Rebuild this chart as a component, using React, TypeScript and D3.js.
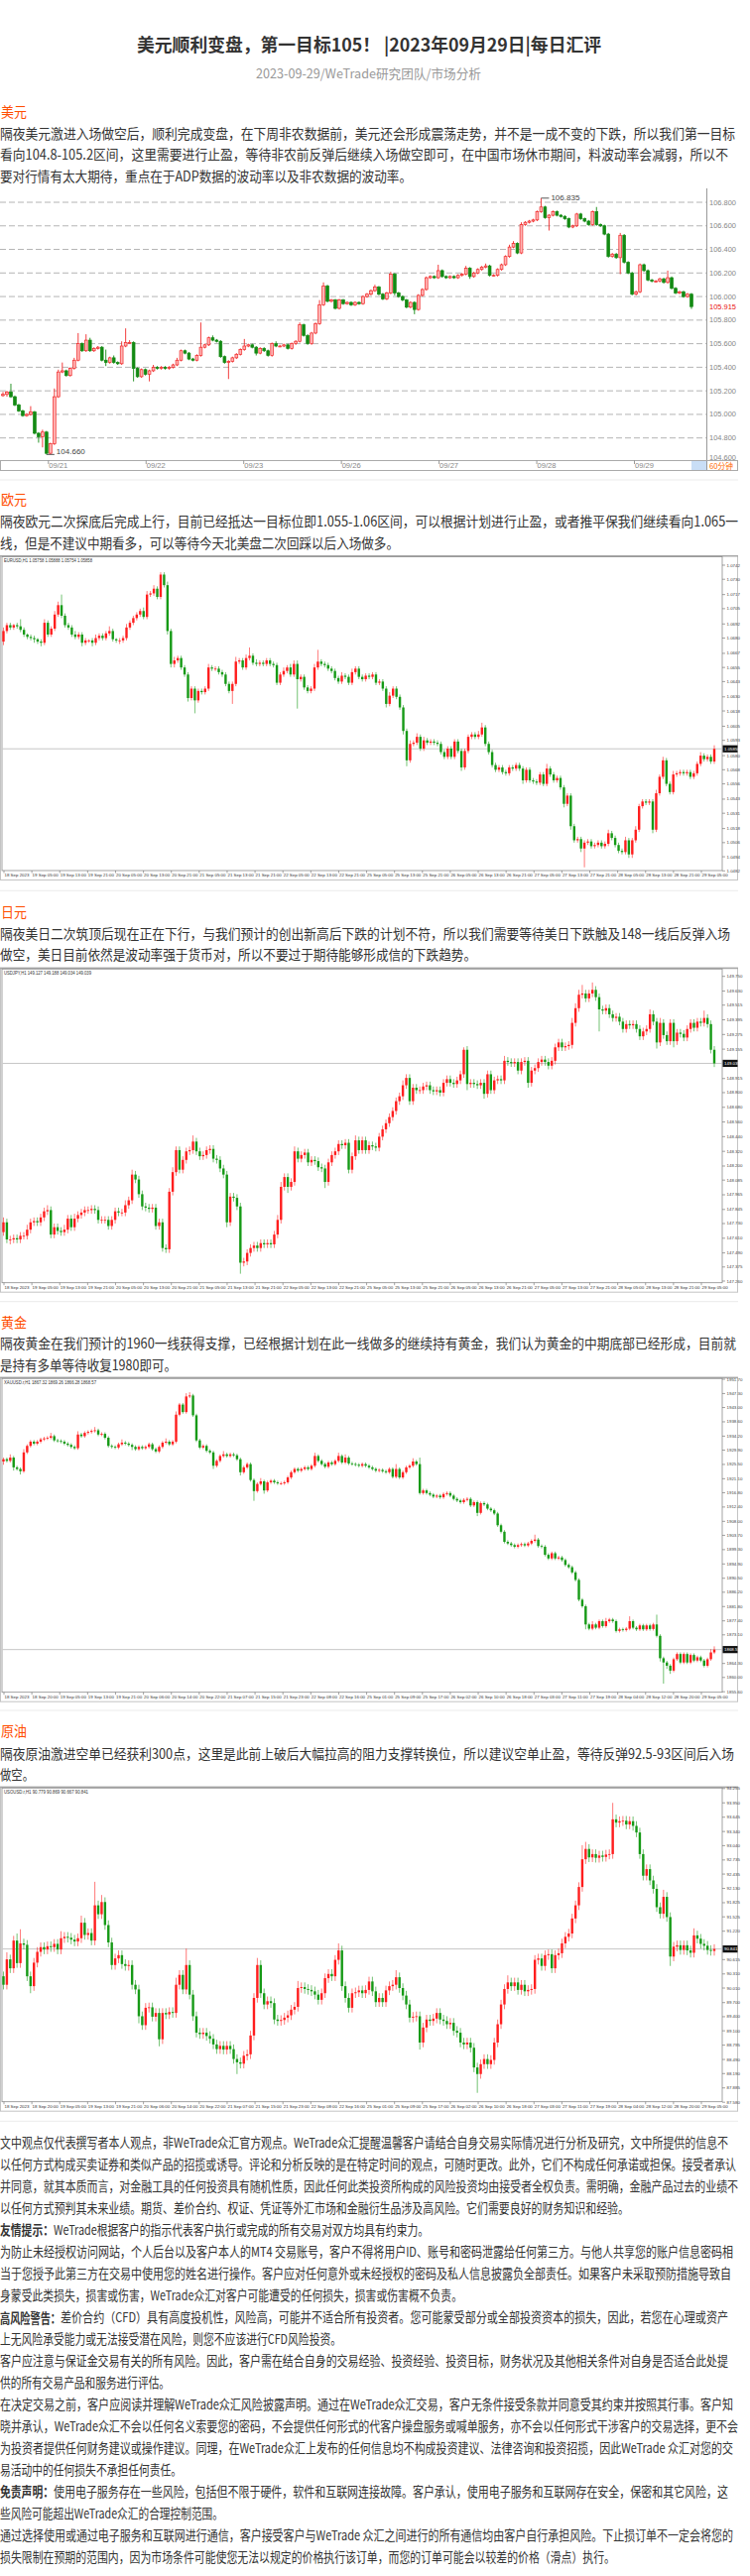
import React from 'react';
import * as d3 from 'd3';

// ================= TEXT DATA =================
const titleText = '美元顺利变盘，第一目标105！ |2023年09月29日|每日汇评';
const subtitleText = '2023-09-29/WeTrade研究团队/市场分析';

const usdHead = '美元';
const usdLines = [
  '隔夜美元激进入场做空后，顺利完成变盘，在下周非农数据前，美元还会形成震荡走势，并不是一成不变的下跌，所以我们第一目标',
  '看向104.8-105.2区间，这里需要进行止盈，等待非农前反弹后继续入场做空即可，在中国市场休市期间，料波动率会减弱，所以不',
  '要对行情有太大期待，重点在于ADP数据的波动率以及非农数据的波动率。',
];
const eurHead = '欧元';
const eurLines = [
  '隔夜欧元二次探底后完成上行，目前已经抵达一目标位即1.055-1.06区间，可以根据计划进行止盈，或者推平保我们继续看向1.065一',
  '线，但是不建议中期看多，可以等待今天北美盘二次回踩以后入场做多。',
];
const jpyHead = '日元';
const jpyLines = [
  '隔夜美日二次筑顶后现在正在下行，与我们预计的创出新高后下跌的计划不符，所以我们需要等待美日下跌触及148一线后反弹入场',
  '做空，美日目前依然是波动率强于货币对，所以不要过于期待能够形成信的下跌趋势。',
];
const xauHead = '黄金';
const xauLines = [
  '隔夜黄金在我们预计的1960一线获得支撑，已经根据计划在此一线做多的继续持有黄金，我们认为黄金的中期底部已经形成，目前就',
  '是持有多单等待收复1980即可。',
];
const oilHead = '原油';
const oilLines = [
  '隔夜原油激进空单已经获利300点，这里是此前上破后大幅拉高的阻力支撑转换位，所以建议空单止盈，等待反弹92.5-93区间后入场',
  '做空。',
];
const discBold = ['', '', '', '', '友情提示：', '', '', '', '高风险警告：', '', '', '', '', '', '', '', '免责声明：', '', '', ''];
const discLines = [
  '文中观点仅代表撰写者本人观点，非WeTrade众汇官方观点。WeTrade众汇提醒温馨客户请结合自身交易实际情况进行分析及研究，文中所提供的信息不',
  '以任何方式构成买卖证券和类似产品的招揽或诱导。评论和分析反映的是在特定时间的观点，可随时更改。此外，它们不构成任何承诺或担保。接受者承认',
  '并同意，就其本质而言，对金融工具的任何投资具有随机性质，因此任何此类投资所构成的风险投资均由接受者全权负责。需明确，金融产品过去的业绩不',
  '以任何方式预判其未来业绩。期货、差价合约、权证、凭证等外汇市场和金融衍生品涉及高风险。它们需要良好的财务知识和经验。',
  'WeTrade根据客户的指示代表客户执行或完成的所有交易对双方均具有约束力。',
  '为防止未经授权访问网站，个人后台以及客户本人的MT4 交易账号，客户不得将用户ID、账号和密码泄露给任何第三方。与他人共享您的账户信息密码相',
  '当于您授予此第三方在交易中使用您的姓名进行操作。客户应对任何意外或未经授权的密码及私人信息披露负全部责任。如果客户未采取预防措施导致自',
  '身蒙受此类损失，损害或伤害，WeTrade众汇对客户可能遭受的任何损失，损害或伤害概不负责。',
  '差价合约（CFD）具有高度投机性，风险高，可能并不适合所有投资者。您可能蒙受部分或全部投资资本的损失，因此，若您在心理或资产',
  '上无风险承受能力或无法接受潜在风险，则您不应该进行CFD风险投资。',
  '客户应注意与保证金交易有关的所有风险。因此，客户需在结合自身的交易经验、投资经验、投资目标，财务状况及其他相关条件对自身是否适合此处提',
  '供的所有交易产品和服务进行评估。',
  '在决定交易之前，客户应阅读并理解WeTrade众汇风险披露声明。通过在WeTrade众汇交易，客户无条件接受条款并同意受其约束并按照其行事。客户知',
  '晓并承认，WeTrade众汇不会以任何名义索要您的密码，不会提供任何形式的代客户操盘服务或喊单服务，亦不会以任何形式干涉客户的交易选择，更不会',
  '为投资者提供任何财务建议或操作建议。同理，在WeTrade众汇上发布的任何信息均不构成投资建议、法律咨询和投资招揽，因此WeTrade 众汇对您的交',
  '易活动中的任何损失不承担任何责任。',
  '使用电子服务存在一些风险，包括但不限于硬件，软件和互联网连接故障。客户承认，使用电子服务和互联网存在安全，保密和其它风险，这',
  '些风险可能超出WeTrade众汇的合理控制范围。',
  '通过选择使用或通过电子服务和互联网进行通信，客户接受客户与WeTrade 众汇之间进行的所有通信均由客户自行承担风险。下止损订单不一定会将您的',
  '损失限制在预期的范围内，因为市场条件可能使您无法以规定的价格执行该订单，而您的订单可能会以较差的价格（滑点）执行。',
];

// ================= CHART 1 (USD index, 60 min) =================
const c1Open0 = 105.16;
const c1Close = [
  105.17,105.19,105.15,105.08,105.03,104.99,105.00,105.02,104.84,104.81,
  104.85,104.67,104.75,105.15,105.36,105.37,105.33,105.39,105.46,105.60,
  105.54,105.63,105.54,105.56,105.57,105.46,105.44,105.48,105.44,105.43,
  105.58,105.61,105.61,105.39,105.32,105.38,105.34,105.37,105.40,105.39,
  105.40,105.39,105.40,105.42,105.46,105.54,105.52,105.47,105.46,105.50,
  105.57,105.59,105.65,105.63,105.62,105.49,105.44,105.45,105.48,105.51,
  105.55,105.58,105.59,105.57,105.52,105.56,105.54,105.50,105.60,105.58,
  105.58,105.59,105.56,105.60,105.62,105.76,105.67,105.60,105.69,105.77,
  105.93,106.09,105.96,105.97,105.90,105.97,105.94,105.95,105.93,105.95,
  105.94,106.00,106.02,106.05,106.08,106.02,105.98,106.03,106.19,106.03,
  106.00,105.97,105.91,105.95,105.89,106.01,106.06,106.16,106.17,106.16,
  106.22,106.17,106.16,106.17,106.16,106.18,106.19,106.24,106.17,106.20,
  106.23,106.25,106.26,106.18,106.18,106.23,106.27,106.34,106.42,106.45,
  106.37,106.61,106.63,106.64,106.65,106.72,106.76,106.67,106.69,106.72,
  106.69,106.68,106.66,106.59,106.60,106.70,106.66,106.64,106.61,106.72,
  106.61,106.60,106.53,106.34,106.36,106.33,106.52,106.29,106.20,106.02,
  106.04,106.27,106.22,106.14,106.13,106.13,106.15,106.12,106.16,106.07,
  106.03,106.04,106.00,106.02,105.915,
];
const c1Up = [
  2,1,7,1,1,1,1,5,1,1, 2,1,1,7,2,7,1,1,2,9, 1,5,2,1,1,1,9,1,2,1, 4,12,2,1,1,1,1,1,2,1,
  1,1,1,1,2,1,1,1,1,1, 21,1,1,2,1,1,1,1,1,1, 1,6,1,1,1,1,1,1,1,2, 1,1,1,1,1,2,1,1,1,1,
  4,3,1,1,1,1,1,1,1,1, 1,1,1,1,2,1,1,1,2,1, 1,1,1,1,1,1,1,1,1,1, 5,1,1,1,1,1,1,2,1,1,
  1,1,2,1,1,1,1,1,2,2, 1,2,1,1,1,1,7.5,1,1,1, 1,1,1,1,1,1,1,1,1,1, 4,1,1,1,1,1,2,1,1,1,
  1,1,1,1,1,1,1,1,6,1, 1,1,1,1,1,
];
const c1Dn = [
  1,2,1,1,1,1,1,1,1,5, 9,1,1,1,1,1,1,1,1,1, 1,1,1,1,1,1,3,1,1,1, 1,1,1,11,1,1,1,6,1,1,
  1,1,1,1,1,1,1,1,1,1, 1,1,1,1,1,1,1,14,1,1, 1,1,1,1,2,1,1,1,1,1, 1,1,1,1,1,1,1,1,1,1,
  1,1,1,1,1,1,1,1,1,1, 1,1,1,1,1,1,1,1,1,2, 1,1,1,1,4,1,1,1,1,1, 1,1,1,1,1,1,1,1,2,1,
  1,1,1,1,1,1,1,1,1,1, 1,1,1,1,1,1,1,1,11,1, 1,1,1,1,1,1,1,1,1,1, 1,1,1,1,1,1,14,1,1,1,
  1,1,1,1,1,1,1,1,1,1, 1,1,1,1,2,
];
const c1Ticks = [106.8,106.6,106.4,106.2,106.0,105.8,105.6,105.4,105.2,105.0,104.8,104.6];
const c1Days = ['09/21','09/22','09/23','09/26','09/27','09/28','09/29'];
const c1Period = '60分钟';

// ================= EURUSD H1 =================
const eurHeader = 'EURUSD,H1  1.05758 1.05888 1.05754 1.05858';
const eurOpen0 = 1.0677;
const eurClose = [
  1.0686,1.0691,1.0689,1.0691,1.0690,1.0687,1.0683,1.0681,1.0680,1.0679,
  1.0677,1.0676,1.0693,1.0683,1.0688,1.0700,1.0708,1.0699,1.0691,1.0689,
  1.0683,1.0681,1.0683,1.0676,1.0678,1.0678,1.0676,1.0680,1.0682,1.0680,
  1.0684,1.0686,1.0679,1.0678,1.0678,1.0680,1.0689,1.0693,1.0697,1.0700,
  1.0703,1.0698,1.0717,1.0718,1.0722,1.0715,1.0734,1.0725,1.0686,1.0658,
  1.0661,1.0663,1.0655,1.0649,1.0629,1.0637,1.0627,1.0635,1.0634,1.0637,
  1.0655,1.0654,1.0654,1.0651,1.0649,1.0641,1.0635,1.0641,1.0660,1.0661,
  1.0655,1.0663,1.0665,1.0659,1.0658,1.0659,1.0658,1.0661,1.0658,1.0657,
  1.0642,1.0649,1.0652,1.0655,1.0649,1.0658,1.0645,1.0647,1.0638,1.0635,
  1.0637,1.0655,1.0660,1.0658,1.0657,1.0654,1.0652,1.0646,1.0643,1.0648,
  1.0647,1.0642,1.0651,1.0654,1.0647,1.0645,1.0648,1.0647,1.0649,1.0642,
  1.0643,1.0637,1.0624,1.0631,1.0637,1.0630,1.0621,1.0601,1.0576,1.0590,
  1.0591,1.0596,1.0586,1.0593,1.0591,1.0592,1.0591,1.0590,1.0583,1.0579,
  1.0586,1.0579,1.0592,1.0584,1.0570,1.0584,1.0596,1.0598,1.0596,1.0598,
  1.0604,1.0590,1.0583,1.0572,1.0568,1.0570,1.0566,1.0565,1.0570,1.0569,
  1.0572,1.0569,1.0559,1.0568,1.0559,1.0558,1.0557,1.0564,1.0556,1.0569,
  1.0564,1.0559,1.0561,1.0553,1.0539,1.0546,1.0520,1.0508,1.0509,1.0501,
  1.0506,1.0507,1.0503,1.0504,1.0506,1.0503,1.0505,1.0514,1.0510,1.0504,
  1.0499,1.0498,1.0508,1.0496,1.0508,1.0517,1.0537,1.0541,1.0540,1.0541,
  1.0517,1.0548,1.0562,1.0576,1.0556,1.0549,1.0564,1.0565,1.0566,1.0565,
  1.0566,1.0562,1.0565,1.0573,1.0580,1.0577,1.0579,1.0575,1.05858,
];
const eurUp = [
  3,2,2,1,2,6,2,1,2,2, 1,2,3,2,2,3,3,9,2,2, 2,3,2,2,2,1,2,3,2,2, 2,4,2,1,2,2,3,2,2,2,
  2,3,3,2,3,2,2,2,3,2, 3,2,2,2,2,2,2,2,2,2, 3,2,2,2,2,2,2,2,4,2, 2,3,7,2,3,2,2,2,2,2,
  2,2,3,2,3,3,3,2,2,2, 2,3,10,2,2,2,2,2,2,3, 2,2,3,2,2,2,2,2,2,2, 2,2,2,3,2,2,2,2,2,3,
  2,3,2,3,2,2,2,2,2,2, 2,2,2,2,2,2,2,2,2,3, 4,2,2,2,2,2,2,2,2,2, 2,2,2,2,2,2,2,2,2,4,
  2,2,2,2,2,2,2,2,2,2, 2,2,2,2,2,2,2,3,2,2, 2,2,3,2,2,3,2,2,2,2, 2,3,2,3,2,2,3,2,2,2,
  2,2,2,2,3,2,2,2,3,
];
const eurDn = [
  3,2,2,2,2,2,2,2,2,3, 2,3,2,2,2,2,2,2,2,2, 2,2,2,3,2,2,3,2,2,2, 2,2,2,2,3,2,2,2,2,2,
  2,2,2,2,2,2,2,2,3,3, 3,2,2,2,3,2,11,2,2,2, 2,2,2,2,2,2,2,11,2,2, 2,2,2,2,2,2,2,2,2,2,
  2,2,2,2,2,2,25,2,2,2, 2,2,2,2,2,2,2,2,2,2, 2,2,2,2,2,2,2,2,2,2, 2,2,3,2,2,2,2,3,5,2,
  2,2,2,2,2,2,2,2,2,2, 2,2,2,2,3,2,2,2,2,2, 2,2,2,2,2,2,2,2,2,2, 2,2,3,2,2,2,2,2,2,2,
  2,2,2,2,3,2,3,2,2,3, 16,2,2,2,2,2,2,2,2,2, 2,2,2,3,3,2,2,2,2,2, 3,2,2,2,2,2,2,2,2,2,
  2,2,2,2,2,2,2,2,2,
];
const eurTicks = [1.0742,1.0730,1.0717,1.0705,1.0692,1.0680,1.0667,1.0655,1.0643,1.0630,1.0618,1.0605,1.0593,1.0580,1.0568,1.0556,1.0543,1.0531,1.0518,1.0506,1.0494,1.0482];
const fxXLabels = ['18 Sep 2023','19 Sep 05:00','19 Sep 13:00','19 Sep 21:00','20 Sep 05:00','20 Sep 13:00','20 Sep 21:00','21 Sep 05:00','21 Sep 13:00','21 Sep 21:00','22 Sep 05:00','22 Sep 13:00','22 Sep 21:00','25 Sep 05:00','25 Sep 13:00','25 Sep 21:00','26 Sep 05:00','26 Sep 13:00','26 Sep 21:00','27 Sep 05:00','27 Sep 13:00','27 Sep 21:00','28 Sep 05:00','28 Sep 13:00','28 Sep 21:00','29 Sep 05:00'];

// ================= USDJPY H1 =================
const jpyHeader = 'USDJPY,H1  149.127 149.188 149.034 149.039';
const jpyOpen0 = 147.66;
const jpyClose = [
  147.74,147.60,147.60,147.61,147.60,147.63,147.63,147.68,147.74,147.75,
  147.74,147.78,147.83,147.84,147.64,147.70,147.67,147.66,147.68,147.77,
  147.70,147.77,147.80,147.82,147.84,147.84,147.85,147.84,147.76,147.76,
  147.76,147.71,147.76,147.83,147.82,147.82,147.88,147.92,148.13,148.09,
  147.97,147.87,147.86,147.85,147.86,147.71,147.74,147.53,147.52,147.99,
  148.15,148.33,148.17,148.25,148.32,148.33,148.40,148.32,148.28,148.29,
  148.33,148.34,148.26,148.25,148.18,148.13,147.74,147.95,147.94,147.87,
  147.41,147.42,147.49,147.53,147.55,147.53,147.57,147.56,147.57,147.56,
  147.64,147.76,148.03,148.11,148.03,148.07,148.32,148.26,148.29,148.31,
  148.23,148.25,148.24,148.19,148.18,148.07,148.23,148.29,148.32,148.38,
  148.37,148.39,148.17,148.28,148.41,148.33,148.41,148.33,148.37,148.36,
  148.35,148.44,148.50,148.55,148.60,148.65,148.73,148.77,148.86,148.92,
  148.73,148.84,148.82,148.82,148.85,148.86,148.82,148.81,148.82,148.80,
  148.88,148.91,148.88,148.87,148.90,148.95,149.15,148.87,148.88,148.87,
  148.86,148.88,148.79,148.95,148.82,148.90,148.91,148.90,149.06,149.05,
  149.04,149.05,148.98,149.05,149.06,148.88,148.98,149.00,149.05,149.07,
  149.05,149.02,149.06,149.17,149.21,149.17,149.18,149.19,149.37,149.49,
  149.60,149.61,149.57,149.61,149.64,149.58,149.48,149.47,149.49,149.44,
  149.41,149.42,149.38,149.32,149.36,149.35,149.36,149.32,149.26,149.30,
  149.32,149.44,149.38,149.21,149.37,149.27,149.22,149.37,149.22,149.29,
  149.28,149.25,149.32,149.37,149.33,149.38,149.37,149.41,149.36,149.15,
  149.039,
];
const jpyUp = [
  4,3,3,3,3,3,3,4,3,3, 3,3,3,4,3,3,3,3,4,3, 3,4,3,3,3,3,3,3,3,3, 3,3,3,3,3,3,4,3,4,3,
  3,3,3,3,3,3,3,3,3,3, 4,3,3,3,3,3,5,3,3,3, 3,3,3,3,3,3,3,3,3,3, 3,3,3,3,3,3,3,3,3,3,
  3,4,4,3,3,3,4,3,3,3, 3,3,3,3,3,3,3,3,3,3, 3,3,3,3,4,3,3,3,3,3, 3,3,3,3,3,3,3,3,4,3,
  3,3,3,3,3,3,3,3,3,3, 3,3,3,3,3,3,2,3,3,3, 3,3,3,3,3,3,3,3,4,3, 3,3,3,3,3,3,3,3,3,3,
  3,3,3,3,3,3,3,3,4,4, 4,7,3,3,6,3,3,3,3,3, 3,3,3,3,3,3,3,3,3,3, 3,4,3,3,4,3,3,3,3,3,
  3,3,3,3,3,3,3,6,3,3, 3,
];
const jpyDn = [
  3,3,4,3,3,3,3,3,3,3, 3,3,3,3,3,3,3,3,3,3, 3,3,3,3,3,3,3,3,3,3, 3,3,3,3,3,3,3,3,3,3,
  3,3,3,3,3,3,3,3,3,3, 3,3,3,3,3,3,3,3,3,3, 3,3,3,3,3,3,4,3,3,3, 9,3,3,3,3,3,3,3,3,3,
  3,3,3,3,5,3,3,3,3,3, 3,3,3,3,3,5,3,3,3,3, 3,3,3,3,3,3,3,3,3,3, 3,3,3,3,3,3,3,3,3,3,
  3,3,3,3,3,3,3,3,3,3, 3,3,3,3,3,3,3,5,3,3, 3,3,4,3,3,3,3,3,3,3, 3,3,3,3,3,4,3,3,3,3,
  3,3,3,3,3,3,3,3,3,3, 3,3,3,3,3,3,18,3,3,3, 3,3,3,3,3,3,3,3,3,3, 3,3,3,5,3,3,3,3,5,3,
  3,3,3,3,3,3,3,3,3,3, 3,
];
const jpyTicks = [149.750,149.630,149.515,149.395,149.275,149.155,149.035,148.915,148.800,148.680,148.560,148.440,148.320,148.200,148.085,147.965,147.845,147.730,147.610,147.490,147.375,147.260];

// ================= XAUUSD H1 =================
const xauHeader = 'XAUUSD.r,H1  1867.32 1869.26 1866.28 1868.57';
const xauOpen0 = 1926.4;
const xauClose = [
  1927.1,1926.6,1927.6,1924.6,1924.1,1923.4,1929.2,1931.2,1932.5,1931.9,
  1932.5,1933.2,1933.5,1933.7,1934.2,1932.9,1932.7,1932.5,1931.9,1931.5,
  1930.9,1930.5,1934.7,1934.2,1935.2,1935.5,1935.8,1936.0,1934.7,1934.9,
  1933.7,1931.2,1930.9,1930.7,1931.7,1932.2,1931.9,1931.5,1930.9,1930.2,
  1930.9,1930.5,1930.9,1931.7,1930.2,1929.5,1930.9,1932.2,1932.5,1931.7,
  1932.5,1940.8,1943.9,1941.6,1946.4,1946.7,1940.6,1932.9,1930.7,1931.2,
  1929.7,1929.2,1925.1,1926.6,1928.1,1928.6,1928.1,1928.6,1928.3,1927.1,
  1923.1,1924.6,1925.6,1920.7,1917.3,1919.5,1920.3,1917.5,1920.0,1920.5,
  1920.0,1919.7,1919.7,1920.0,1921.5,1923.1,1924.1,1923.6,1924.1,1924.6,
  1924.1,1925.1,1928.1,1926.6,1925.6,1924.8,1926.1,1925.6,1926.6,1928.1,
  1926.1,1927.6,1925.8,1925.6,1925.4,1925.1,1925.6,1925.1,1924.6,1924.1,
  1923.6,1923.8,1923.4,1923.1,1924.1,1921.7,1924.1,1921.5,1923.1,1924.6,
  1925.1,1926.4,1925.6,1916.7,1917.5,1916.7,1916.2,1915.6,1915.9,1915.4,
  1916.4,1916.7,1915.9,1914.9,1914.4,1913.9,1914.6,1914.9,1912.9,1913.9,
  1910.6,1913.6,1913.2,1911.9,1911.4,1910.4,1906.8,1904.8,1901.7,1901.2,
  1900.7,1900.2,1900.7,1901.0,1900.6,1901.2,1902.0,1902.4,1900.4,1900.2,
  1897.7,1896.6,1898.2,1896.6,1896.9,1896.1,1894.6,1893.9,1892.3,1890.0,
  1883.9,1881.9,1876.3,1875.0,1876.3,1875.3,1877.3,1875.8,1877.3,1877.8,
  1877.3,1874.3,1874.8,1874.6,1875.0,1877.3,1875.3,1874.8,1876.0,1874.8,
  1876.0,1874.9,1876.3,1872.8,1865.9,1864.6,1863.6,1862.1,1865.6,1867.2,
  1864.6,1867.2,1864.6,1866.9,1865.2,1866.2,1865.2,1863.6,1865.6,1867.7,
  1868.57,
];
const xauUp = [
  1,1,2,1,1,1,2,1,1,1, 1,1,1,1,2,1,1,1,1,1, 1,1,2,1,1,1,1,2,1,1, 1,1,1,1,1,2,1,1,1,1,
  1,1,1,1,1,1,1,1,2,1, 1,2,1,1,2,2,1,1,1,1, 1,1,1,1,1,2,1,1,1,1, 1,1,1,1,1,1,2,1,1,1,
  1,1,1,1,1,1,1,1,1,1, 1,1,2,1,1,1,1,1,1,2, 1,2,1,1,1,1,1,1,1,1, 1,1,1,1,1,1,3,1,1,1,
  1,2,1,4,1,1,1,1,1,1, 1,1,1,1,1,1,1,1,1,1, 1,1,1,1,1,1,1,1,1,1, 1,1,1,1,1,1,1,3,1,1,
  1,1,1,1,1,1,1,1,1,1, 1,1,1,1,2,1,1,1,2,1, 1,1,1,1,1,3,1,1,1,1, 1,1,1,6,1,1,1,1,1,1,
  1,1,1,1,1,1,1,1,1,2, 2,
];
const xauDn = [
  2,1,1,2,1,2,1,1,1,1, 1,1,1,1,1,1,1,1,1,1, 1,1,1,1,1,1,1,1,1,1, 1,1,1,1,1,1,1,1,2,1,
  1,1,1,1,1,1,1,1,1,1, 1,1,1,1,1,1,1,1,1,1, 1,1,2,1,1,1,1,1,1,1, 2,1,1,1,6,1,1,2,1,1,
  1,1,1,1,1,1,1,1,1,1, 1,1,1,1,1,1,1,1,1,1, 1,1,1,1,1,1,1,1,1,1, 1,1,1,1,1,1,1,1,1,1,
  1,1,1,1,1,1,1,1,1,1, 1,1,1,1,1,1,1,1,1,1, 2,1,1,1,1,1,1,1,1,1, 1,1,1,1,1,1,1,1,1,1,
  1,1,1,1,1,1,1,1,1,1, 1,1,3,1,1,1,1,1,1,1, 1,1,1,1,1,1,1,1,1,1, 1,1,1,1,2,13,2,2,1,1,
  1,1,1,1,1,1,1,1,1,1, 1,
];
const xauTicks = [1951.70,1947.30,1943.00,1938.60,1934.20,1929.90,1925.50,1921.10,1916.80,1912.40,1908.00,1903.70,1899.30,1894.90,1890.50,1886.20,1881.80,1877.40,1873.10,1868.70,1864.30,1860.00,1855.60];
const cmdXLabels = ['18 Sep 2023','18 Sep 20:00','19 Sep 05:00','19 Sep 13:00','19 Sep 21:00','20 Sep 06:00','20 Sep 14:00','20 Sep 22:00','21 Sep 07:00','21 Sep 15:00','21 Sep 23:00','22 Sep 08:00','22 Sep 16:00','25 Sep 01:00','25 Sep 09:00','25 Sep 17:00','26 Sep 02:00','26 Sep 10:00','26 Sep 18:00','27 Sep 03:00','27 Sep 11:00','27 Sep 19:00','28 Sep 04:00','28 Sep 12:00','28 Sep 20:00','29 Sep 05:00'];

// ================= USOUSD H1 =================
const oilHeader = 'USOUSD.r,H1  90.779 90.869 90.667 90.841';
const oilOpen0 = 90.26;
const oilClose = [
  90.08,90.62,90.43,91.02,90.54,90.96,90.93,90.26,90.05,90.55,
  90.78,90.88,90.83,90.90,90.88,90.95,90.83,91.07,91.10,91.08,
  91.04,91.00,91.07,91.40,91.14,91.18,91.02,91.77,91.58,91.84,
  91.35,90.98,90.50,90.64,90.71,90.52,90.48,90.50,90.08,89.98,
  89.41,89.22,89.59,89.60,89.40,89.48,88.92,89.48,89.45,89.50,
  89.48,90.08,90.29,89.98,90.50,89.87,89.41,89.06,89.03,89.06,
  88.99,88.93,88.81,88.71,88.78,88.70,88.78,88.71,88.50,88.43,
  88.40,88.57,88.60,89.00,89.80,90.50,89.90,89.66,89.73,89.69,
  89.34,89.31,89.33,89.38,89.43,89.55,89.61,90.01,90.03,89.99,
  89.97,89.94,89.87,89.76,89.90,90.22,90.31,90.26,90.61,90.81,
  90.05,89.80,89.59,89.90,89.92,89.96,89.90,89.97,90.15,89.94,
  89.71,89.80,89.71,89.96,90.05,90.08,90.24,90.01,89.85,89.66,
  89.38,89.40,89.41,88.85,89.17,89.34,89.31,89.36,89.48,89.34,
  89.31,89.24,89.27,89.10,89.06,88.85,88.81,88.85,88.74,88.32,
  88.18,88.39,88.50,88.39,88.48,88.85,89.24,89.66,89.99,90.13,
  90.05,90.13,89.97,90.08,89.94,89.97,89.99,90.61,90.64,90.48,
  90.71,90.73,90.43,90.71,90.75,90.96,91.10,91.17,91.49,91.77,
  92.16,92.75,92.97,92.79,92.86,92.78,92.83,92.80,92.85,92.86,
  93.60,93.53,93.56,93.57,93.49,93.56,93.46,93.32,92.86,92.40,
  92.54,92.30,92.12,91.73,91.59,91.95,91.52,90.68,90.89,90.92,
  90.82,90.92,90.81,90.76,91.13,91.06,90.95,90.91,90.82,90.80,
  90.841,
];
const oilUp = [
  2,3,2,2,3,6,2,2,2,2, 2,2,2,2,2,2,2,3,2,2, 2,2,2,3,2,2,2,10,2,3, 2,2,2,2,2,2,2,2,2,2,
  2,2,2,2,2,2,2,2,2,2, 2,3,2,2,7,2,2,2,2,2, 2,2,2,2,2,2,2,2,2,2, 2,2,2,2,2,3,2,2,2,2,
  2,2,2,2,2,2,2,3,2,2, 2,2,2,2,2,2,2,2,2,3, 2,2,2,2,2,2,2,2,2,2, 2,2,2,2,2,2,3,2,2,2,
  2,2,2,2,2,2,2,2,2,2, 2,2,2,2,2,2,2,2,2,2, 2,2,2,2,2,2,2,2,2,3, 2,2,2,2,2,2,2,2,2,2,
  2,2,2,2,2,2,2,2,2,2, 2,6,3,2,2,2,2,2,2,2, 7,2,2,2,2,2,2,2,2,2, 2,2,2,2,2,3,2,2,2,2,
  2,2,2,2,3,2,2,2,2,2, 2,
];
const oilDn = [
  2,2,2,2,2,2,2,2,3,2, 2,2,2,2,2,2,2,2,2,2, 2,2,2,2,2,2,2,2,2,2, 2,2,2,2,2,2,2,2,2,2,
  3,2,2,2,2,2,3,2,2,2, 2,2,2,2,2,2,2,2,2,2, 2,2,2,2,2,2,2,2,2,5, 2,2,2,2,2,2,2,2,2,2,
  2,2,2,2,2,2,2,2,2,2, 2,2,2,2,2,2,2,2,2,2, 2,2,2,2,2,2,2,2,2,2, 2,2,2,2,2,2,2,2,2,2,
  2,2,2,3,2,2,2,2,2,2, 2,2,2,2,2,2,2,2,2,2, 8,2,2,2,2,2,2,2,2,2, 2,2,2,2,2,2,2,2,2,2,
  2,2,2,2,2,2,2,2,2,2, 2,2,2,2,2,2,2,2,2,2, 2,2,2,2,2,2,2,2,2,2, 2,2,2,2,2,2,2,4,2,2,
  2,2,2,2,2,2,2,2,2,2, 2,
];
const oilTicks = [94.255,93.950,93.645,93.340,93.040,92.735,92.435,92.130,91.825,91.525,91.220,90.920,90.615,90.310,90.010,89.700,89.400,89.100,88.795,88.490,88.190,87.885,87.580];

// ================= HELPERS =================
const CJK = '"Noto Sans CJK SC","Noto Sans CJK JP","Noto Sans",sans-serif';
const LAT = '"Liberation Sans",Arial,sans-serif';

type Candle = { o: number; h: number; l: number; c: number };
function buildCandles(open0: number, closes: number[], up: number[], dn: number[], unit: number): Candle[] {
  let prev = open0;
  return closes.map((c, i) => {
    const o = prev;
    prev = c;
    return { o, c, h: Math.max(o, c) + (up[i] ?? 1) * unit, l: Math.min(o, c) - (dn[i] ?? 1) * unit };
  });
}

// estimated natural advance width, in em, of a string in the CJK font
function emWidth(s: string) {
  let w = 0;
  for (const ch of s) {
    const c = ch.codePointAt(0) || 0;
    if (c >= 0x2e80) w += 1;
    else if (ch === ' ') w += 0.26;
    else if ('.,:;!|'.includes(ch)) w += 0.27;
    else if ('-()/'.includes(ch)) w += 0.34;
    else if (/[0-9]/.test(ch)) w += 0.56;
    else if (/[A-Z]/.test(ch)) w += ch === 'W' ? 0.92 : ch === 'I' ? 0.3 : 0.64;
    else if (/[a-z]/.test(ch)) w += ch === 'm' ? 0.86 : 'ilj'.includes(ch) ? 0.24 : 'rtf'.includes(ch) ? 0.36 : 0.54;
    else w += 0.56;
  }
  return w;
}

// text squeezed horizontally (like the reference) to a given width
function TLine({ x = 0, y, w, size = 14, fill = '#333', weight = 400, anchor = 'start', family = CJK, children }: any) {
  const s = String(children);
  const sx = w / (emWidth(s) * size);
  return (
    <text transform={`translate(${x},${y}) scale(${sx.toFixed(4)},1)`} x={0} y={0} fontSize={size} fill={fill}
      fontWeight={weight} fontFamily={family} textAnchor={anchor} dominantBaseline="central"
      textLength={w / sx} lengthAdjust="spacingAndGlyphs">
      {s}
    </text>
  );
}

function Section({ head, lines, headY, y0, widths }: any) {
  return (
    <g>
      <TLine x={1} y={headY} w={26} fill="#ff4d00">{head}</TLine>
      {lines.map((t: string, i: number) => (
        <TLine key={i} x={0} y={y0 + i * 21.8} w={widths[i]}>{t}</TLine>
      ))}
    </g>
  );
}

// ================= CHART 1 =================
function UsdChart() {
  const data = buildCandles(c1Open0, c1Close, c1Up, c1Dn, 0.01);
  const x = d3.scaleLinear().domain([0, data.length - 1]).range([3, 697]);
  const y = d3.scaleLinear().domain([104.8, 106.8]).range([441.7, 204]);
  const dx = d3.scalePoint<string>().domain(c1Days).range([48.8, 639.5]);
  const hi = d3.maxIndex(data, d => d.h);
  const lo = d3.minIndex(data, d => d.l);
  const last = data[data.length - 1].c;
  const RED = '#f02828', GRN = '#138a13';
  return (
    <g>
      {c1Ticks.filter(v => y(v) < 462).map(v => (
        <line key={'g' + v} x1={0} x2={712} y1={y(v)} y2={y(v)} stroke="#b4b4b4" strokeDasharray="6,3" strokeWidth={1} />
      ))}
      {c1Ticks.map(v => (
        <text key={'t' + v} x={715} y={Math.min(y(v), 461)} fontSize={7.5} fill="#888" fontFamily={LAT}
          dominantBaseline="central" textLength={27} lengthAdjust="spacingAndGlyphs">{v.toFixed(3)}</text>
      ))}
      <line x1={712.5} x2={712.5} y1={190} y2={474} stroke="#999" />
      <line x1={0} x2={744} y1={464.5} y2={464.5} stroke="#aaa" />
      <line x1={0} x2={744} y1={474.5} y2={474.5} stroke="#aaa" />
      <line x1={0.5} x2={0.5} y1={464} y2={475} stroke="#aaa" />
      <line x1={743.5} x2={743.5} y1={464} y2={475} stroke="#aaa" />
      {c1Days.map(d => (
        <g key={d}>
          <line x1={dx(d)!} x2={dx(d)!} y1={464} y2={468} stroke="#999" />
          <text x={dx(d)! + 0.5} y={469} fontSize={7.5} fill="#888" fontFamily={LAT} dominantBaseline="central"
            textLength={19} lengthAdjust="spacingAndGlyphs">{d}</text>
        </g>
      ))}
      <rect x={697} y={465} width={15} height={9} fill="#c9def6" />
      <text x={715} y={469.5} fontSize={7.5} fill="#ff6a00" fontFamily={CJK} dominantBaseline="central"
        textLength={24} lengthAdjust="spacingAndGlyphs">{c1Period}</text>
      {data.map((d, i) => {
        const up = d.c >= d.o;
        const col = up ? RED : GRN;
        const cx = x(i);
        const top = y(Math.max(d.o, d.c)), bot = y(Math.min(d.o, d.c));
        return (
          <g key={i}>
            <line x1={cx} x2={cx} y1={y(d.h)} y2={y(d.l)} stroke={col} strokeWidth={0.9} />
            <rect x={cx - 1.4} y={top} width={2.8} height={Math.max(bot - top, 0.9)}
              fill={up ? '#ffb4b4' : col} stroke={col} strokeWidth={0.7} />
          </g>
        );
      })}
      <line x1={x(hi)} x2={x(hi) + 8} y1={y(data[hi].h)} y2={y(data[hi].h)} stroke="#555" />
      <text x={x(hi) + 10} y={y(data[hi].h)} fontSize={8} fill="#444" fontFamily={LAT} dominantBaseline="central">{data[hi].h.toFixed(3)}</text>
      <line x1={x(lo)} x2={x(lo) + 8} y1={y(data[lo].l)} y2={y(data[lo].l)} stroke="#555" />
      <text x={x(lo) + 10} y={y(data[lo].l) - 3} fontSize={8} fill="#444" fontFamily={LAT} dominantBaseline="central">{data[lo].l.toFixed(3)}</text>
      <text x={715} y={y(last)} fontSize={8} fill="#e81010" fontFamily={LAT} dominantBaseline="central"
        textLength={27} lengthAdjust="spacingAndGlyphs">{last.toFixed(3)}</text>
    </g>
  );
}

// ================= MT4 CHART =================
function Mt4Chart({ T, header, headerW, open0, closes, up, dn, unit, ticks, digits, curDigits, vTop, yTop, vBot, yBot, xLabels }: any) {
  const data = buildCandles(open0, closes, up, dn, unit);
  const x = d3.scaleLinear().domain([0, data.length - 1]).range([3.5, 720]);
  const y = d3.scaleLinear().domain([vBot, vTop]).range([T + yBot, T + yTop]);
  const xl = d3.scalePoint<string>().domain(xLabels).range([4, 707]);
  const last = data[data.length - 1].c;
  const cy = y(last);
  const RED = '#ff1e1e', GRN = '#169a16';
  const PB = T + 318;
  return (
    <g>
      <rect x={0.5} y={T + 0.5} width={743} height={327} fill="#fff" stroke="#c4c4c4" />
      <line x1={0} x2={744} y1={T + 0.8} y2={T + 0.8} stroke="#a8a8a8" strokeWidth={1.6} />
      <rect x={2} y={T + 1.5} width={726} height={PB - T - 1.5} fill="none" stroke="#8c8c8c" strokeWidth={0.8} />
      <text x={4} y={T + 5.5} fontSize={4.6} fill="#333" fontFamily={LAT} dominantBaseline="central"
        textLength={headerW} lengthAdjust="spacingAndGlyphs">{header}</text>
      {ticks.filter((v: number) => Math.abs(y(v) - cy) > 4.5).map((v: number) => (
        <g key={v}>
          <line x1={728} x2={731} y1={y(v)} y2={y(v)} stroke="#666" strokeWidth={0.6} />
          <text x={732.5} y={y(v)} fontSize={4.4} fill="#444" fontFamily={LAT} dominantBaseline="central">{v.toFixed(digits)}</text>
        </g>
      ))}
      <line x1={2.5} x2={728} y1={cy} y2={cy} stroke="#c6c6c6" strokeWidth={1} />
      {data.map((d: Candle, i: number) => {
        const upC = d.c >= d.o;
        const col = upC ? RED : GRN;
        const cx = x(i);
        const top = y(Math.max(d.o, d.c)), bot = y(Math.min(d.o, d.c));
        return (
          <g key={i}>
            <line x1={cx} x2={cx} y1={y(d.h)} y2={y(d.l)} stroke={col} strokeWidth={0.8} opacity={0.75} />
            <rect x={cx - 1.2} y={top} width={2.4} height={Math.max(bot - top, 0.8)} fill={col} />
          </g>
        );
      })}
      <rect x={728.5} y={cy - 3.6} width={15} height={7.2} fill="#111" />
      <text x={730} y={cy} fontSize={4.4} fill="#fff" fontFamily={LAT} dominantBaseline="central">{last.toFixed(curDigits)}</text>
      {xLabels.map((s: string) => (
        <g key={s}>
          <line x1={xl(s)!} x2={xl(s)!} y1={PB} y2={PB + 2.5} stroke="#666" strokeWidth={0.6} />
          <text x={xl(s)! + 0.5} y={T + 322.5} fontSize={4.4} fill="#333" fontFamily={LAT} dominantBaseline="central">{s}</text>
        </g>
      ))}
    </g>
  );
}

// ================= APP =================
export default function App() {
  const sepYs = [484, 898.3, 1312.7, 1725, 2139.3];
  const discW = [734, 742, 744, 634, 432, 739, 737, 466, 734, 344, 734, 171, 739, 744, 739, 183, 734, 225, 739, 620];
  const boldW: Record<string, number> = { '友情提示：': 54, '高风险警告：': 61, '免责声明：': 54 };
  return (
    <svg width={756} height={2598} viewBox="0 0 756 2598"
      style={{ position: 'absolute', left: 0, top: 0, display: 'block', background: '#fff' }}>
      <rect x={0} y={0} width={756} height={2598} fill="#fff" />
      <TLine x={372} y={44} w={468} size={18} weight={700} anchor="middle">{titleText}</TLine>
      <TLine x={371.5} y={73} w={227} size={13} fill="#999" anchor="middle">{subtitleText}</TLine>

      <Section head={usdHead} lines={usdLines} headY={112} y0={133.3} widths={[741, 734, 415]} />
      <UsdChart />

      <Section head={eurHead} lines={eurLines} headY={503} y0={525} widths={[744, 402]} />
      <Mt4Chart T={560} header={eurHeader} headerW={89} open0={eurOpen0} closes={eurClose} up={eurUp} dn={eurDn}
        unit={0.0001} ticks={eurTicks} digits={4} curDigits={5} vTop={1.0742} yTop={10} vBot={1.0482} yBot={318.3} xLabels={fxXLabels} />

      <Section head={jpyHead} lines={jpyLines} headY={918.3} y0={940.5} widths={[736, 480]} />
      <Mt4Chart T={975.7} header={jpyHeader} headerW={88} open0={jpyOpen0} closes={jpyClose} up={jpyUp} dn={jpyDn}
        unit={0.01} ticks={jpyTicks} digits={3} curDigits={3} vTop={149.75} yTop={9} vBot={147.26} yBot={316.3} xLabels={fxXLabels} />

      <Section head={xauHead} lines={xauLines} headY={1332.3} y0={1354} widths={[742, 178]} />
      <Mt4Chart T={1388.7} header={xauHeader} headerW={93} open0={xauOpen0} closes={xauClose} up={xauUp} dn={xauDn}
        unit={0.5} ticks={xauTicks} digits={2} curDigits={2} vTop={1951.7} yTop={2.3} vBot={1855.6} yBot={317.5} xLabels={cmdXLabels} />

      <Section head={oilHead} lines={oilLines} headY={1745} y0={1767.3} widths={[740, 34]} />
      <Mt4Chart T={1801.7} header={oilHeader} headerW={85} open0={oilOpen0} closes={oilClose} up={oilUp} dn={oilDn}
        unit={0.05} ticks={oilTicks} digits={3} curDigits={3} vTop={94.255} yTop={2.1} vBot={87.58} yBot={318.5} xLabels={cmdXLabels} />

      {sepYs.map(s => <line key={s} x1={0} x2={744} y1={s} y2={s} stroke="#ebebeb" strokeWidth={1} />)}

      {discLines.map((t, i) => {
        const yy = 2161 + i * 21.95;
        const b = discBold[i];
        const bw = b ? boldW[b] : 0;
        return (
          <g key={i}>
            {b ? <TLine x={0} y={yy} w={bw} size={13.5} weight={700}>{b}</TLine> : null}
            <TLine x={bw} y={yy} w={discW[i] - bw} size={13.5}>{t}</TLine>
          </g>
        );
      })}
    </svg>
  );
}
